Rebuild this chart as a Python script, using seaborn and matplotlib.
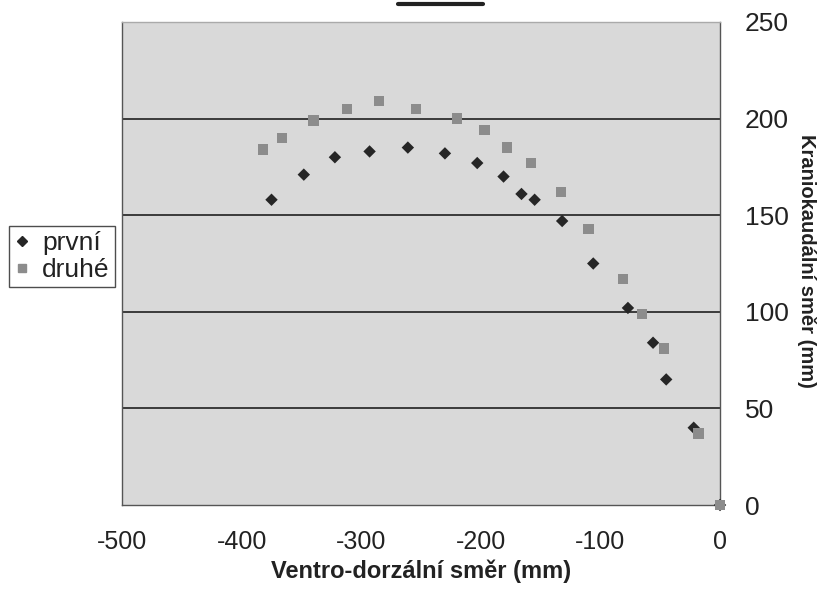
import matplotlib
matplotlib.use("Agg")
import matplotlib.pyplot as plt
import seaborn as sns
import pandas as pd
from matplotlib.lines import Line2D

# Data
prvni_x = [-375, -348, -322, -293, -261, -230, -203, -181, -166, -155, -132, -106, -77, -56, -45, -22, 0]
prvni_y = [158, 171, 180, 183, 185, 182, 177, 170, 161, 158, 147, 125, 102, 84, 65, 40, 0]
druhe_x = [-382, -366, -340, -312, -285, -254, -220, -197, -178, -158, -133, -110, -81, -65, -47, -18, 0]
druhe_y = [184, 190, 199, 205, 209, 205, 200, 194, 185, 177, 162, 143, 117, 99, 81, 37, 0]
series_names = ["první", "druhé"]
x_ticks = [-500, -400, -300, -200, -100, 0]
y_ticks = [0, 50, 100, 150, 200, 250]
x_label = "Ventro-dorzální směr (mm)"
y_label = "Kraniokaudální směr (mm)"

df = pd.concat([
    pd.DataFrame({"x": prvni_x, "y": prvni_y, "série": series_names[0]}),
    pd.DataFrame({"x": druhe_x, "y": druhe_y, "série": series_names[1]}),
])

sns.set_style("white")
plt.rcParams["font.family"] = ["Liberation Sans", "DejaVu Sans"]

fig = plt.figure(figsize=(8.26, 6.01), dpi=100)
ax = fig.add_axes([0.1477, 0.1597, 0.7240, 0.8037])
ax.set_facecolor("#d9d9d9")

palette = {series_names[0]: "#262626", series_names[1]: "#8c8c8c"}
markers = {series_names[0]: "D", series_names[1]: "s"}
sizes = {series_names[0]: 40, series_names[1]: 55}

for name in series_names:
    sub = df[df["série"] == name]
    sns.scatterplot(data=sub, x="x", y="y", ax=ax, color=palette[name],
                    marker=markers[name], s=sizes[name], edgecolor="none",
                    zorder=3, legend=False, clip_on=False)

ax.set_xlim(-500, 0)
ax.set_ylim(0, 250)
ax.set_xticks(x_ticks)
ax.set_yticks(y_ticks)
ax.set_xticklabels([str(v) for v in x_ticks], fontsize=18)
ax.set_yticklabels([str(v) for v in y_ticks], fontsize=19)
ax.yaxis.tick_right()
ax.yaxis.set_label_position("right")
ax.tick_params(axis="x", direction="out", length=5, width=1, pad=13, colors="#222222")
ax.tick_params(axis="y", direction="out", length=0, pad=18, colors="#222222")
for v in y_ticks[1:-1]:
    ax.axhline(v, color="#111111", linewidth=1.1, zorder=1)
for s in ax.spines.values():
    s.set_visible(True)
    s.set_color("#555555")
    s.set_linewidth(1)
ax.spines["top"].set_color("#aaaaaa")

ax.set_xlabel(x_label, fontsize=17, fontweight="bold", color="#222222", va="top")
ax.xaxis.set_label_coords(0.5, -0.113)
ax.set_ylabel(y_label, fontsize=14.5, fontweight="bold", color="#222222",
              rotation=270, va="center")
ax.yaxis.set_label_coords(1.145, 0.505)

handles = [
    Line2D([], [], marker="D", color="#262626", linestyle="none", markersize=5),
    Line2D([], [], marker="s", color="#8c8c8c", linestyle="none", markersize=6),
]
leg = fig.legend(handles, series_names, loc="upper left", bbox_to_anchor=(0.011, 0.624),
                 fontsize=19, frameon=True, fancybox=False, borderpad=0.2,
                 handlelength=0.6, handletextpad=0.45, labelspacing=0.1, borderaxespad=0)
leg.get_frame().set_edgecolor("#222222")
leg.get_frame().set_linewidth(1)
for t in leg.get_texts():
    t.set_color("#222222")

# stray title remnant at the top
fig.add_artist(Line2D([0.482, 0.585], [0.993, 0.993], color="#222222", linewidth=3,
                      transform=fig.transFigure))

fig.savefig("out.png", dpi=100)
